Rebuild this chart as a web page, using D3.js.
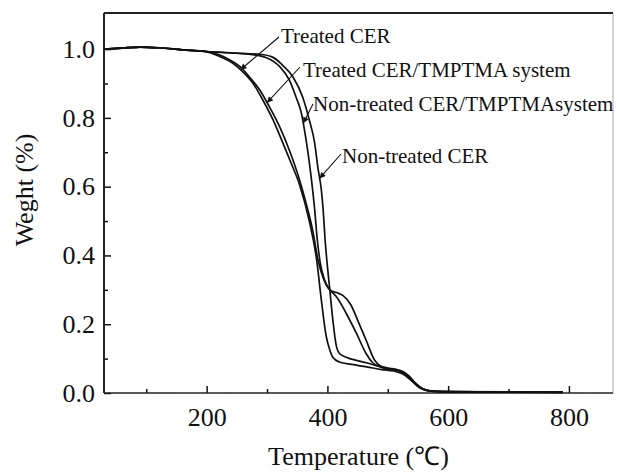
<!DOCTYPE html>
<html>
<head>
<meta charset="utf-8">
<script src="https://cdn.jsdelivr.net/npm/d3@7"></script>
<style>
  body { margin: 0; background: #fff; }
  svg { display: block; }
  text { font-family: "Liberation Serif", "Times New Roman", serif; fill: #111; }
</style>
</head>
<body>
<script>
// TGA curves: [temperature (C), weight fraction]
var treatedCER = [[30,1.0],[60,1.003],[90,1.006],[120,1.004],[160,0.998],[200,0.992],[222,0.978],[244,0.958],[260,0.934],[277,0.900],[293,0.852],[310,0.794],[326,0.728],[340,0.668],[354,0.605],[370,0.50],[382,0.39],[390,0.27],[398,0.165],[404,0.125],[409,0.104],[420,0.090],[440,0.083],[465,0.076],[490,0.068],[510,0.064],[525,0.055],[540,0.035],[552,0.018],[565,0.008],[590,0.004],[650,0.003],[790,0.002]];
var treatedTMPTMA = [[30,1.0],[60,1.003],[90,1.006],[120,1.004],[160,0.998],[200,0.993],[220,0.984],[240,0.967],[255,0.950],[271,0.919],[288,0.881],[304,0.832],[321,0.774],[337,0.706],[354,0.619],[365,0.55],[376,0.47],[384,0.39],[394,0.33],[404,0.30],[415,0.292],[426,0.283],[439,0.256],[450,0.212],[464,0.154],[478,0.096],[488,0.078],[497,0.072],[519,0.064],[532,0.052],[545,0.03],[558,0.012],[570,0.006],[600,0.004],[790,0.002]];
var nonTreatedTMPTMA = [[30,1.0],[60,1.003],[90,1.006],[120,1.004],[160,0.998],[200,0.993],[240,0.989],[270,0.985],[299,0.975],[321,0.949],[337,0.910],[348,0.861],[357,0.813],[362,0.765],[368,0.697],[373,0.629],[379,0.532],[383,0.45],[388,0.38],[395,0.33],[405,0.298],[415,0.28],[431,0.232],[448,0.174],[464,0.115],[475,0.088],[490,0.074],[503,0.069],[520,0.066],[535,0.05],[548,0.025],[560,0.01],[575,0.005],[600,0.004],[790,0.003]];
var nonTreatedCER = [[30,1.0],[60,1.003],[90,1.006],[120,1.004],[160,0.998],[200,0.993],[250,0.988],[288,0.985],[310,0.976],[326,0.953],[343,0.919],[359,0.861],[370,0.794],[379,0.726],[384,0.658],[390,0.590],[393,0.532],[396,0.45],[399,0.387],[404,0.30],[409,0.212],[415,0.135],[420,0.115],[431,0.104],[450,0.094],[464,0.088],[485,0.078],[503,0.072],[515,0.068],[528,0.055],[540,0.035],[552,0.016],[565,0.007],[590,0.004],[790,0.003]];

var seriesNames = ["Treated CER", "Treated CER/TMPTMA system", "Non-treated CER/TMPTMAsystem", "Non-treated CER"];
var xMajor = [200, 400, 600, 800];
var xMinor = [100, 300, 500, 700];
var yMajor = [0, 0.2, 0.4, 0.6, 0.8, 1.0];
var yMinor = [0.1, 0.3, 0.5, 0.7, 0.9];

(function () {
    var width = 617, height = 472;
    var pl = 104, pr = 613, pt = 13, pb = 393;

    var svg = d3.select("body").append("svg")
        .attr("width", width)
        .attr("height", height);

    var x = d3.scaleLinear().domain([30, 873]).range([pl, pr]);
    var y = d3.scaleLinear().domain([0, 1.105]).range([pb, pt]);

    // ticks point inward
    svg.append("g")
        .attr("transform", "translate(0," + pb + ")")
        .call(d3.axisBottom(x).tickValues(xMajor).tickSizeInner(-7).tickSizeOuter(0).tickPadding(15))
        .call(g => g.select(".domain").remove())
        .call(g => g.selectAll("text").attr("font-size", 26))
        .call(g => g.selectAll("line").attr("stroke", "#111").attr("stroke-width", 1.5));
    svg.append("g")
        .attr("transform", "translate(0," + pb + ")")
        .call(d3.axisBottom(x).tickValues(xMinor).tickSizeInner(-4).tickSizeOuter(0).tickFormat(""))
        .call(g => g.select(".domain").remove())
        .call(g => g.selectAll("line").attr("stroke", "#111").attr("stroke-width", 1.5));

    svg.append("g")
        .attr("transform", "translate(" + pl + ",0)")
        .call(d3.axisLeft(y).tickValues(yMajor).tickSizeInner(-7).tickSizeOuter(0).tickPadding(9).tickFormat(d3.format(".1f")))
        .call(g => g.select(".domain").remove())
        .call(g => g.selectAll("text").attr("font-size", 26))
        .call(g => g.selectAll("line").attr("stroke", "#111").attr("stroke-width", 1.5));
    svg.append("g")
        .attr("transform", "translate(" + pl + ",0)")
        .call(d3.axisLeft(y).tickValues(yMinor).tickSizeInner(-4).tickSizeOuter(0).tickFormat(""))
        .call(g => g.select(".domain").remove())
        .call(g => g.selectAll("line").attr("stroke", "#111").attr("stroke-width", 1.5));

    // frame
    svg.append("line").attr("x1", pr).attr("x2", pr).attr("y1", pt).attr("y2", pb)
        .attr("stroke", "#aaa").attr("stroke-width", 1);
    svg.append("line").attr("x1", pl).attr("x2", pr).attr("y1", pt).attr("y2", pt)
        .attr("stroke", "#222").attr("stroke-width", 2);
    svg.append("line").attr("x1", pl).attr("x2", pr).attr("y1", pb).attr("y2", pb)
        .attr("stroke", "#222").attr("stroke-width", 1.6);
    svg.append("line").attr("x1", pl).attr("x2", pl).attr("y1", pt).attr("y2", pb)
        .attr("stroke", "#222").attr("stroke-width", 2);

    // curves
    var line = d3.line()
        .x(d => x(d[0]))
        .y(d => y(d[1]))
        .curve(d3.curveMonotoneX);

    var allSeries = [treatedCER, treatedTMPTMA, nonTreatedTMPTMA, nonTreatedCER];
    svg.selectAll(".curve")
        .data(allSeries)
        .enter()
        .append("path")
        .attr("class", "curve")
        .attr("fill", "none")
        .attr("stroke", "#111")
        .attr("stroke-width", 1.7)
        .attr("d", line);

    // arrow labels
    svg.append("defs").append("marker")
        .attr("id", "head")
        .attr("viewBox", "0 0 10 10")
        .attr("refX", 10).attr("refY", 5)
        .attr("markerWidth", 7).attr("markerHeight", 6)
        .attr("markerUnits", "userSpaceOnUse")
        .attr("orient", "auto")
        .append("path").attr("d", "M0,0 L10,5 L0,10 z").attr("fill", "#111");

    function valueAt(series, t) {
        var xs = series.map(d => d[0]);
        var i = d3.bisectLeft(xs, t);
        var a = series[i - 1], b = series[i];
        return a[1] + (b[1] - a[1]) * (t - a[0]) / (b[0] - a[0]);
    }

    // tip temperature on its curve, arrow tail and text position in px
    var notes = [
        { s: 0, t: 256, tail: [279, 37], tx: 281, ty: 43 },
        { s: 1, t: 300, tail: [300, 67], tx: 303, ty: 77 },
        { s: 2, t: 360, tail: [313, 104], tx: 313, ty: 111 },
        { s: 3, t: 387, tail: [341, 154], tx: 342, ty: 163 }
    ];

    notes.forEach(n => {
        var tipX = x(n.t), tipY = y(valueAt(allSeries[n.s], n.t));
        svg.append("line")
            .attr("x1", n.tail[0]).attr("y1", n.tail[1])
            .attr("x2", tipX).attr("y2", tipY)
            .attr("stroke", "#111").attr("stroke-width", 1.1)
            .attr("marker-end", "url(#head)");
        svg.append("text")
            .attr("x", n.tx).attr("y", n.ty)
            .attr("font-size", 21)
            .text(seriesNames[n.s]);
    });

    // axis titles
    svg.append("text")
        .attr("x", (pl + pr) / 2).attr("y", 465)
        .attr("text-anchor", "middle")
        .attr("font-size", 26)
        .text("Temperature (\u2103)");

    svg.append("text")
        .attr("transform", "translate(33,190) rotate(-90)")
        .attr("text-anchor", "middle")
        .attr("font-size", 26)
        .text("Weght (%)");
})();
</script>
</body>
</html>
